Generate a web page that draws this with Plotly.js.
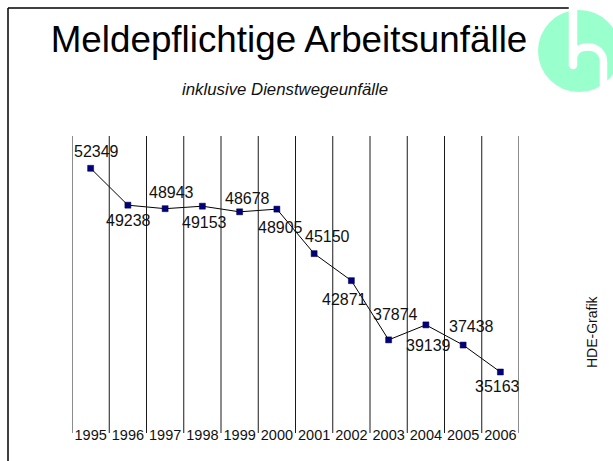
<!DOCTYPE html>
<html>
<head>
<meta charset="utf-8">
<script src="https://cdn.plot.ly/plotly-3.0.1.min.js"></script>
<style>html,body{margin:0;padding:0;background:#fff;}#chart{width:613px;height:461px;}</style>
</head>
<body>
<div id="chart"></div>
<script>
// ---- data ----
var years = ['1995','1996','1997','1998','1999','2000','2001','2002','2003','2004','2005','2006'];
var accidents = [52349, 49238, 48943, 49153, 48678, 48905, 45150, 42871, 37874, 39139, 37438, 35163];
var titleText = 'Meldepflichtige Arbeitsunfälle';
var subtitleText = 'inklusive Dienstwegeunfälle';
var sourceText = 'HDE-Grafik';

// ---- label placement (pixel offsets from each point) ----
var labelDx = [6, 1, 6, 2, 7.5, 3.5, 13.5, -7, 6.5, 3, 8.5, -3];
var labelDy = [16.6, -15, 16.6, -16, 13.4, -18, 17, -18.6, 25.7, -21, 19, -14];

var W = 613, H = 461;
var M = {l: 72, r: 94, t: 137, b: 37};
var pw = W - M.l - M.r, ph = H - M.t - M.b;
function px(x){ return (x - M.l) / pw; }
function py(y){ return (H - M.b - y) / ph; }

var FONT = 'Arial, "Liberation Sans", sans-serif';

var trace = {
  x: years, y: accidents, type: 'scatter', mode: 'lines+markers',
  line: {color: '#000000', width: 1},
  marker: {symbol: 'square', size: 6, color: '#000080', line: {color: '#000033', width: 0.5}},
  hoverinfo: 'x+y', showlegend: false, cliponaxis: false
};

var shapes = [];
// vertical separators between categories
for (var i = 0; i <= years.length; i++) {
  shapes.push({type: 'line', xref: 'x', yref: 'paper', x0: i - 0.5, x1: i - 0.5,
    y0: py(433), y1: py(136), line: {color: '#1a1a1a', width: 1}});
}
// frame (top + left)
shapes.push({type: 'line', xref: 'paper', yref: 'paper', x0: px(8), x1: px(570), y0: py(8), y1: py(8), line: {color: '#000', width: 1.5}});
shapes.push({type: 'line', xref: 'paper', yref: 'paper', x0: px(8), x1: px(8), y0: py(8), y1: py(470), line: {color: '#000', width: 1.5}});
// logo
shapes.push({type: 'circle', xref: 'paper', yref: 'paper', x0: px(538), x1: px(620), y0: py(92), y1: py(10),
  fillcolor: '#99FFCC', line: {width: 0}});
shapes.push({type: 'line', xref: 'paper', yref: 'paper', x0: px(573), x1: px(573), y0: py(0), y1: py(65),
  line: {color: '#fff', width: 8.5}});
shapes.push({type: 'circle', xref: 'paper', yref: 'paper', x0: px(568.75), x1: px(577.25), y0: py(69.25), y1: py(60.75),
  fillcolor: '#fff', line: {width: 0}});
function P(x, y){ return px(x) + ',' + py(y); }
shapes.push({type: 'path', xref: 'paper', yref: 'paper',
  path: 'M' + P(573, 62) + ' C' + P(573, 50) + ' ' + P(580, 47) + ' ' + P(588, 47) +
        ' C' + P(597, 47) + ' ' + P(603.5, 53) + ' ' + P(603.5, 62) + ' L' + P(603.5, 100),
  line: {color: '#fff', width: 7.5}});

var annotations = [];
for (var j = 0; j < years.length; j++) {
  annotations.push({x: j, y: accidents[j], xref: 'x', yref: 'y', text: String(accidents[j]),
    xanchor: 'center', yanchor: 'middle',
    showarrow: false, xshift: labelDx[j], yshift: labelDy[j],
    font: {family: FONT, size: 16, color: '#111'}});
}
annotations.push({x: px(285), y: py(89), xref: 'paper', yref: 'paper', text: '<i>' + subtitleText + '</i>',
  xanchor: 'center', yanchor: 'middle',
  showarrow: false, font: {family: FONT, size: 16.8, color: '#111'}});
annotations.push({x: px(592), y: py(332), xref: 'paper', yref: 'paper', text: sourceText, textangle: -90,
  xanchor: 'center', yanchor: 'middle',
  showarrow: false, font: {family: FONT, size: 14, color: '#111'}});

var layout = {
  width: W, height: H,
  margin: M,
  paper_bgcolor: '#fff', plot_bgcolor: '#fff',
  title: {text: titleText, font: {family: FONT, size: 36.8, color: '#000'},
    xref: 'container', yref: 'container', x: 289 / W, xanchor: 'center', y: 1 - 26 / H, yanchor: 'top'},
  xaxis: {type: 'category', range: [-0.5, years.length - 0.5], showgrid: false, zeroline: false, showline: false,
    ticks: '', tickfont: {family: FONT, size: 14.5, color: '#111'}, fixedrange: true},
  yaxis: {range: [30777, 54990], visible: false, fixedrange: true},
  shapes: shapes,
  annotations: annotations,
  showlegend: false
};

Plotly.newPlot('chart', [trace], layout, {displayModeBar: false, staticPlot: true});
</script>
</body>
</html>
